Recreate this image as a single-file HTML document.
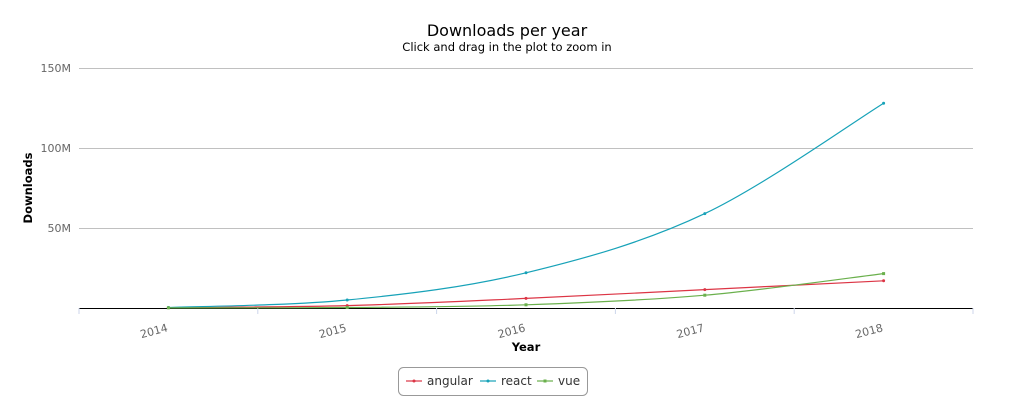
<!DOCTYPE html>
<html><head><meta charset="utf-8"><style>
body{margin:0;background:#fff;font-family:"Liberation Sans","DejaVu Sans",sans-serif}
</style></head><body>
<svg id="chart" width="1011" height="410" xmlns="http://www.w3.org/2000/svg" font-family="'DejaVu Sans','Liberation Sans',sans-serif">
<text x="507" y="36" text-anchor="middle" font-size="16" fill="#000">Downloads per year</text>
<text x="507" y="51" text-anchor="middle" font-size="11.5" fill="#000">Click and drag in the plot to zoom in</text>
<g id="grid"></g><g id="axes"></g><g id="series"></g>
<text transform="translate(32,188) rotate(-90)" text-anchor="middle" font-size="11.5" font-weight="bold" fill="#000">Downloads</text>
<text x="526" y="351" text-anchor="middle" font-size="11.5" font-weight="bold" fill="#000">Year</text>
<g>
<rect x="398.5" y="367.5" width="189" height="28" rx="5" fill="#fff" stroke="#999"/>
<g><line x1="406" y1="381" x2="422" y2="381" stroke="#dc3545" stroke-width="2" opacity=".6"/><circle cx="414" cy="381" r="1.5" fill="#dc3545"/><text x="427" y="385" font-size="12" fill="#333">angular</text></g>
<g><line x1="480" y1="381" x2="496" y2="381" stroke="#17a2b8" stroke-width="2" opacity=".6"/><circle cx="488" cy="381" r="1.5" fill="#17a2b8"/><text x="501" y="385" font-size="12" fill="#333">react</text></g>
<g><line x1="537" y1="381" x2="553" y2="381" stroke="#6ab04c" stroke-width="2" opacity=".6"/><rect x="543.5" y="379.5" width="3" height="3" fill="#6ab04c"/><text x="558" y="385" font-size="12" fill="#333">vue</text></g>
</g>
</svg>
<script>
const categories=["2014","2015","2016","2017","2018"];
const angular=[0.2,1.5,6,11.5,17];
const react=[0.3,5,22,59,128];
const vue=[0.1,0.3,2,8,21.5];
const yTicks=[0,50,100,150];
const yTickLabels=["","50M","100M","150M"];
const NS="http://www.w3.org/2000/svg";
const L=79,R=973,T=68,B=308,yMax=150;
const bw=(R-L)/categories.length;
const x=i=>L+bw*(i+0.5);
const y=v=>B-(v/yMax)*(B-T);
function mk(tag,attrs,parent){const e=document.createElementNS(NS,tag);for(const k in attrs)e.setAttribute(k,attrs[k]);parent.appendChild(e);return e;}
const grid=document.getElementById('grid'),axes=document.getElementById('axes'),ser=document.getElementById('series');
yTicks.forEach((t,i)=>{
 if(t>0){const g=mk('line',{x1:L,x2:R,y1:y(t)+.5,y2:y(t)+.5,stroke:'#c0c0c0'},grid);
 
 }
 const tx=mk('text',{x:71,y:y(t)+4,'text-anchor':'end','font-size':11,fill:'#666'},axes);tx.textContent=yTickLabels[i];
 
 
});
const ax=mk('line',{x1:L,x2:R,y1:B+.5,y2:B+.5,stroke:'#000'},axes);


for(let i=0;i<=categories.length;i++){const tk=mk('line',{x1:L+bw*i,x2:L+bw*i,y1:B,y2:B+6,stroke:'#ccd6eb'},axes);
 
 }
categories.forEach((c,i)=>{const t=mk('text',{x:x(i),y:B+23,'text-anchor':'end','font-size':11,fill:'#666',transform:`rotate(-15 ${x(i)} ${B+23})`},axes);t.textContent=c;
 
 });
function path(vals){const p=vals.map((v,i)=>[x(i),y(v)]);let d=`M${p[0][0]},${p[0][1]}`;
 for(let i=0;i<p.length-1;i++){const p0=p[i-1]||p[i],p1=p[i],p2=p[i+1],p3=p[i+2]||p2;
 const c1=[p1[0]+(p2[0]-p0[0])/6,p1[1]+(p2[1]-p0[1])/6],c2=[p2[0]-(p3[0]-p1[0])/6,p2[1]-(p3[1]-p1[1])/6];
 d+=` C${c1[0]},${c1[1]} ${c2[0]},${c2[1]} ${p2[0]},${p2[1]}`;}return d;}
[[angular,'#dc3545','angular'],[react,'#17a2b8','react'],[vue,'#6ab04c','vue']].forEach(([vals,col,name])=>{
 const l=mk('path',{d:path(vals),fill:'none',stroke:col,'stroke-width':1.2},ser);
 
 
 vals.forEach((v,i)=>{const m=name==='vue'?mk('rect',{x:x(i)-1.5,y:y(v)-1.5,width:3,height:3,fill:col},ser):mk('circle',{cx:x(i),cy:y(v),r:1.5,fill:col},ser);
 
 });
});
</script>
</body></html>
